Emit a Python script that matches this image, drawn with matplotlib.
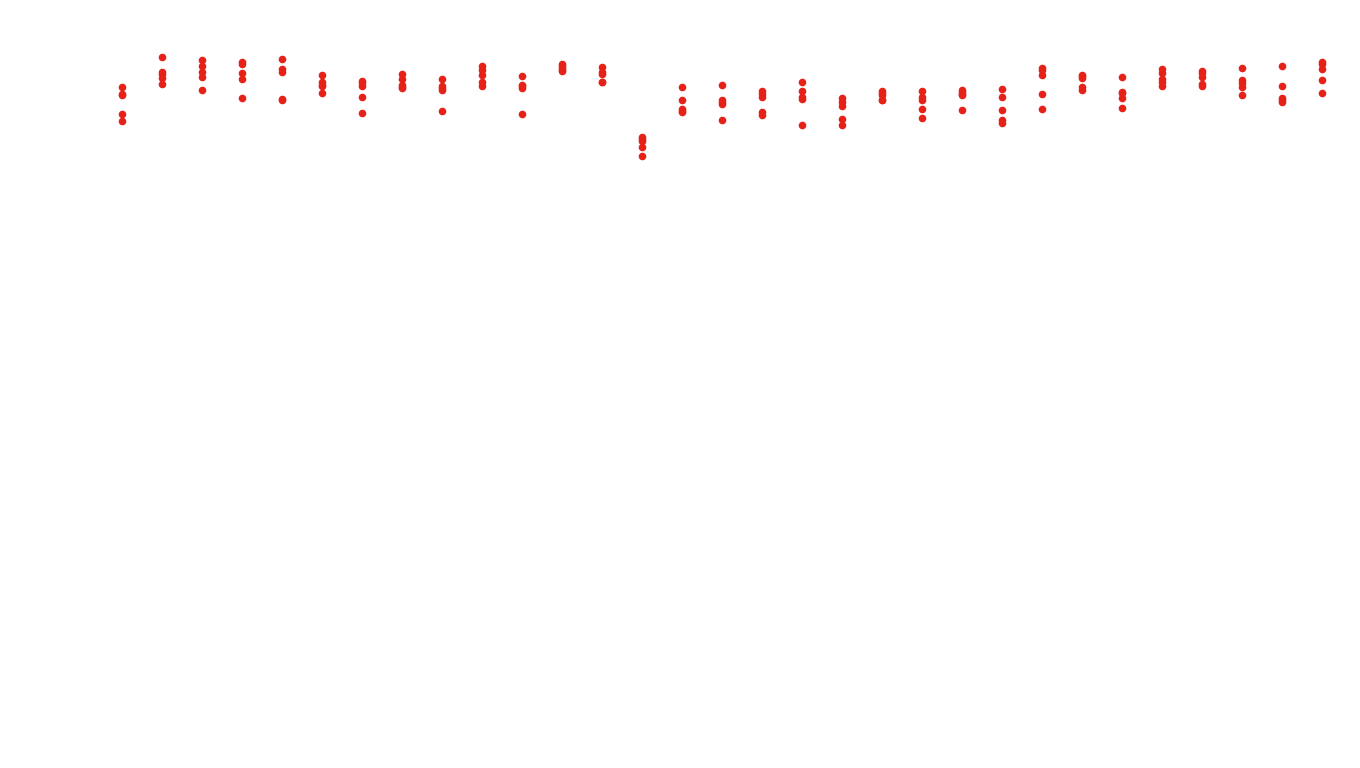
import matplotlib
matplotlib.use("Agg")
import matplotlib.pyplot as plt

# Category indices (31 columns) and the observed values per column (height units)
categories = list(range(31))
raw_positions = [
    [87, 94, 95, 114, 121],
    [57, 72, 74, 78, 84],
    [60, 66, 72, 77, 90],
    [62, 64, 73, 79, 98],
    [59, 69, 72, 99, 100],
    [75, 82, 85, 86, 93],
    [81, 83, 86, 97, 113],
    [74, 79, 85, 87, 88],
    [79, 86, 88, 90, 111],
    [66, 70, 75, 82, 86],
    [76, 85, 86, 88, 114],
    [64, 66, 68, 70, 71],
    [67, 72, 74, 82, 82],
    [137, 139, 141, 147, 156],
    [87, 100, 109, 111, 112],
    [85, 100, 102, 104, 120],
    [91, 94, 97, 112, 115],
    [82, 91, 97, 99, 125],
    [98, 102, 106, 119, 125],
    [91, 93, 95, 100, 100],
    [91, 97, 100, 109, 118],
    [90, 92, 94, 95, 110],
    [89, 97, 110, 120, 123],
    [68, 70, 75, 94, 109],
    [75, 76, 78, 87, 90],
    [77, 92, 93, 98, 108],
    [69, 73, 79, 82, 86],
    [71, 73, 77, 84, 86],
    [68, 80, 83, 87, 95],
    [66, 86, 98, 100, 102],
    [62, 64, 69, 80, 93],
]
values = [[768 - p for p in col] for col in raw_positions]

fig = plt.figure(figsize=(13.6, 7.68), dpi=100)
ax = fig.add_axes([0, 0, 1, 1])
xs, ys = [], []
for c, col in zip(categories, values):
    for v in col:
        xs.append(c)
        ys.append(v)
ax.scatter(xs, ys, s=30, color="#e62118", linewidths=0)
ax.set_xlim(-122 / 40, (1360 - 122) / 40)
ax.set_ylim(0, 768)
ax.axis("off")
fig.savefig("out.png", dpi=100, facecolor="white")
